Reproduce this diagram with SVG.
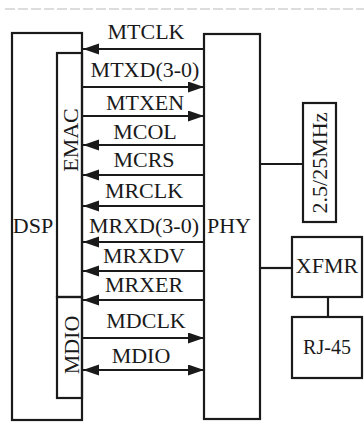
<svg xmlns="http://www.w3.org/2000/svg" width="364" height="427" viewBox="0 0 364 427">
<style>
.box{fill:none;stroke:#1a1a1a;stroke-width:2.2}
.ln{fill:none;stroke:#1a1a1a;stroke-width:2.2}
text{font-family:'Liberation Serif',serif;font-size:22px;fill:#1a1a1a;text-anchor:middle}
</style>
<defs>
<marker id="ah" markerUnits="userSpaceOnUse" markerWidth="18" markerHeight="12" refX="16" refY="5.5" orient="auto-start-reverse">
<path d="M0,0 L16,5.5 L0,11 z" fill="#1a1a1a"/>
</marker>
</defs>
<rect width="364" height="427" fill="#fff"/>
<line x1="5" y1="9" x2="364" y2="9" stroke="#bbb" stroke-width="1.2" stroke-dasharray="10 3"/>
<g id="dsp">
<rect class="box" x="12" y="33" width="70" height="387"/>
<text x="33" y="233" font-family="Liberation Serif">DSP</text>
</g>
<g id="emac">
<rect class="box" x="57" y="53" width="25" height="244"/>
<text transform="translate(78,140) rotate(-90)" font-family="Liberation Serif">EMAC</text>
</g>
<g id="mdio">
<rect class="box" x="57" y="297" width="25" height="101"/>
<text transform="translate(79,345) rotate(-90)" font-family="Liberation Serif">MDIO</text>
</g>
<g id="phy">
<rect class="box" x="204" y="34" width="56" height="385"/>
<text x="229" y="233" font-family="Liberation Serif">PHY</text>
</g>
<g id="osc">
<rect class="box" x="303" y="103" width="33" height="119"/>
<text transform="translate(327,163) rotate(-90)" font-family="Liberation Serif">2.5/25MHz</text>
</g>
<g id="xfmr">
<rect class="box" x="292" y="237" width="70" height="60"/>
<text x="327" y="273" font-family="Liberation Serif">XFMR</text>
</g>
<g id="rj45">
<rect class="box" x="292" y="317" width="70" height="61"/>
<text x="327" y="354" font-family="Liberation Serif" style="font-size:20px">RJ-45</text>
</g>
<g id="connectors">
<line class="ln" x1="204" y1="49" x2="83" y2="49" marker-end="url(#ah)"/>
<line class="ln" x1="83" y1="87" x2="204" y2="87" marker-end="url(#ah)"/>
<line class="ln" x1="83" y1="116" x2="204" y2="116" marker-end="url(#ah)"/>
<line class="ln" x1="204" y1="145" x2="83" y2="145" marker-end="url(#ah)"/>
<line class="ln" x1="204" y1="175" x2="83" y2="175" marker-end="url(#ah)"/>
<line class="ln" x1="204" y1="206" x2="83" y2="206" marker-end="url(#ah)"/>
<line class="ln" x1="204" y1="242" x2="83" y2="242" marker-end="url(#ah)"/>
<line class="ln" x1="204" y1="271" x2="83" y2="271" marker-end="url(#ah)"/>
<line class="ln" x1="204" y1="300" x2="83" y2="300" marker-end="url(#ah)"/>
<line class="ln" x1="83" y1="338" x2="204" y2="338" marker-end="url(#ah)"/>
<line class="ln" x1="83" y1="370" x2="204" y2="370" marker-start="url(#ah)" marker-end="url(#ah)"/>
<line class="ln" x1="260" y1="164" x2="303" y2="164"/>
<line class="ln" x1="260" y1="268" x2="292" y2="268"/>
<line class="ln" x1="328" y1="297" x2="328" y2="317"/>
<g font-family="Liberation Serif">
<text x="146" y="39">MTCLK</text>
<text x="145" y="77">MTXD(3-0)</text>
<text x="145" y="110">MTXEN</text>
<text x="145" y="139">MCOL</text>
<text x="144" y="167">MCRS</text>
<text x="144" y="198">MRCLK</text>
<text x="144" y="233">MRXD(3-0)</text>
<text x="144" y="263">MRXDV</text>
<text x="144" y="292">MRXER</text>
<text x="146" y="328">MDCLK</text>
<text x="141" y="363">MDIO</text>
</g>
</g>
</svg>
